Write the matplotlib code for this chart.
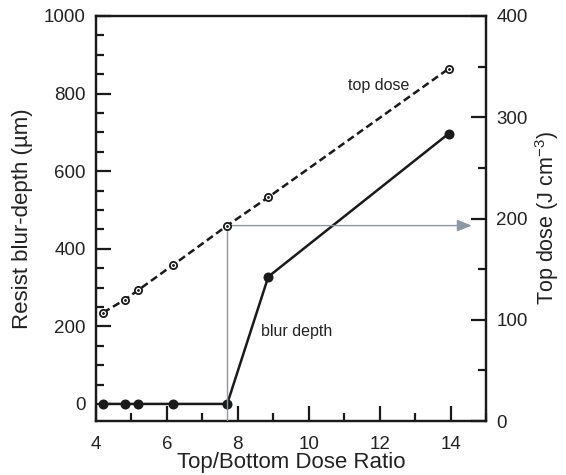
import numpy as np
import matplotlib
matplotlib.use('Agg')
from matplotlib import pyplot as plt
from matplotlib.ticker import MultipleLocator

plt.rcParams['font.family'] = ['Liberation Sans', 'DejaVu Sans']
plt.rcParams['mathtext.default'] = 'regular'

# data
ratio = [4.2, 4.82, 5.18, 6.17, 7.7, 8.86, 13.95]
blur_depth = [0, 0, 0, 0, 0, 328, 697]
top_dose = [107, 120, 129, 154, 193, 221, 348]

fig = plt.figure(figsize=(5.66, 4.75), dpi=100)
ax = fig.add_axes([96 / 566, 1 - 421 / 475, 390 / 566, 405 / 475])
ax2 = ax.twinx()

# blur depth on left axis
ax.plot(ratio, blur_depth, color='#1a1a1a', lw=1.8, marker='o', ms=6.2,
        zorder=5)
# top dose on right axis
ax2.plot(ratio, top_dose, color='#1a1a1a', lw=1.8, ls=(0, (3, 1.6)),
         marker='o', ms=5.2, mfc='white', mec='#1a1a1a', mew=1.3, zorder=5)
ax2.plot(ratio, top_dose, ls='none', marker='.', ms=2, color='#1a1a1a',
         zorder=6)

# guide: vertical line from threshold up to top dose, arrow to right axis
ax2.plot([ratio[4], ratio[4]], [-3, top_dose[4]], color='#8a98a6',
         lw=1.0, zorder=3)
ax2.annotate('', xy=(14.6, top_dose[4]), xytext=(ratio[4], top_dose[4]),
             arrowprops=dict(arrowstyle='-|>,head_width=0.3,head_length=0.75',
                             color='#8a98a6', lw=1.0,
                             mutation_scale=12, shrinkA=0, shrinkB=0),
             zorder=3)

ax.text(11.12, 822, 'top dose', fontsize=11.5, va='center', ha='left',
        color='#222222')
ax.text(8.64, 186, 'blur depth', fontsize=11.5, va='center', ha='left',
        color='#222222')

ax.set_xlim(4, 15)
ax.set_ylim(-44, 1000)
ax2.set_ylim(0, 400)

ax.xaxis.set_major_locator(MultipleLocator(2))
ax.xaxis.set_minor_locator(MultipleLocator(1))
ax.yaxis.set_major_locator(MultipleLocator(200))
ax.yaxis.set_minor_locator(MultipleLocator(50))
ax2.yaxis.set_major_locator(MultipleLocator(100))
ax2.yaxis.set_minor_locator(MultipleLocator(50))

for a in (ax, ax2):
    for s in a.spines.values():
        s.set_linewidth(1.6)
        s.set_color('#1a1a1a')
    a.tick_params(which='major', direction='in', length=11, width=1.6,
                  labelsize=13.5, color='#1a1a1a', labelcolor='#222222',
                  pad=7.5)
    a.tick_params(which='minor', direction='in', length=5.5, width=1.6,
                  color='#1a1a1a')
ax.tick_params(axis='x', which='major', pad=11)
ax.tick_params(axis='y', which='both', right=False)
ax.tick_params(axis='x', which='both', top=False)

ax.set_xlabel('Top/Bottom Dose Ratio', fontsize=16, labelpad=-1,
              color='#222222')
ax.set_ylabel('Resist blur-depth (\u00b5m)', fontsize=16, labelpad=8,
              color='#222222')
ax2.set_ylabel('Top dose (J cm$^{-3}$)', fontsize=15.5, labelpad=4,
               color='#222222')

fig.savefig('out.png', dpi=100)
